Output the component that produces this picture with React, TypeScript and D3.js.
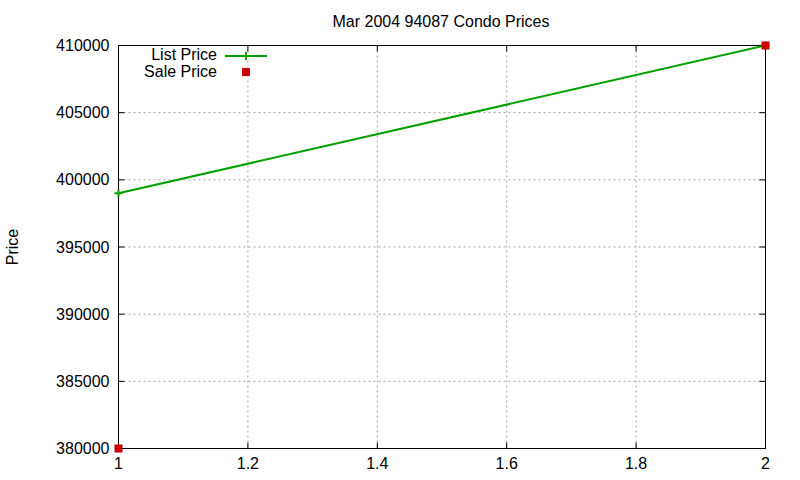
import React, { useEffect, useRef } from 'react';
import * as d3 from 'd3';

const listX = [1, 2];
const listPrice = [399000, 410000];
const saleX = [1, 2];
const salePrice = [380000, 410000];
const xTicks = [1, 1.2, 1.4, 1.6, 1.8, 2];
const yTicks = [380000, 385000, 390000, 395000, 400000, 405000, 410000];

const W = 800;
const H = 480;
const FONT = '"Liberation Sans", Arial, sans-serif';
const FS = 16;

export default function App() {
  const svgRef = useRef<SVGSVGElement>(null);

  useEffect(() => {
    document.body.style.margin = '0';
    if (!svgRef.current) return;
    const svg = d3.select(svgRef.current);
    svg.selectAll('*').remove();

    const left = 118.5, right = 765.5, top = 45.5, bottom = 448.5;
    const x = d3.scaleLinear().domain([1, 2]).range([left, right]);
    const y = d3.scaleLinear().domain([380000, 410000]).range([bottom, top]);

    svg.append('rect').attr('width', W).attr('height', H).attr('fill', '#fff');

    // grid
    const grid = svg.append('g').attr('stroke', '#a0a0a0').attr('stroke-width', 1)
      .attr('stroke-dasharray', '2,3');
    xTicks.slice(1, -1).forEach(t => {
      grid.append('line').attr('x1', x(t)).attr('x2', x(t)).attr('y1', top).attr('y2', bottom);
    });
    yTicks.slice(1, -1).forEach(t => {
      grid.append('line').attr('x1', left).attr('x2', right).attr('y1', y(t)).attr('y2', y(t));
    });

    // ticks
    const ticks = svg.append('g').attr('stroke', '#000').attr('stroke-width', 1);
    yTicks.forEach(t => {
      ticks.append('line').attr('x1', left).attr('x2', left + 6).attr('y1', y(t)).attr('y2', y(t));
      ticks.append('line').attr('x1', right).attr('x2', right - 6).attr('y1', y(t)).attr('y2', y(t));
    });
    xTicks.forEach(t => {
      ticks.append('line').attr('x1', x(t)).attr('x2', x(t)).attr('y1', bottom).attr('y2', bottom - 6);
      ticks.append('line').attr('x1', x(t)).attr('x2', x(t)).attr('y1', top).attr('y2', top + 6);
    });

    // tick labels
    svg.append('g').selectAll('text').data(yTicks).join('text')
      .attr('x', left - 9).attr('y', d => y(d)).attr('dy', '0.35em')
      .attr('text-anchor', 'end').attr('font-family', FONT).attr('font-size', FS)
      .attr('fill', '#000').text(d => String(d));
    svg.append('g').selectAll('text').data(xTicks).join('text')
      .attr('x', d => x(d)).attr('y', bottom + 20)
      .attr('text-anchor', 'middle').attr('font-family', FONT).attr('font-size', FS)
      .attr('fill', '#000').text(d => String(d));

    // frame
    svg.append('rect').attr('x', left).attr('y', top)
      .attr('width', right - left).attr('height', bottom - top)
      .attr('fill', 'none').attr('stroke', '#000').attr('stroke-width', 1);

    // title and label
    svg.append('text').attr('x', 441).attr('y', 27).attr('text-anchor', 'middle')
      .attr('font-family', FONT).attr('font-size', FS).attr('fill', '#000')
      .text('Mar 2004 94087 Condo Prices');
    svg.append('text').attr('transform', 'translate(18,247) rotate(-90)')
      .attr('text-anchor', 'middle').attr('font-family', FONT).attr('font-size', FS)
      .attr('fill', '#000').text('Price');

    const green = '#00a000';
    const red = '#cc0000';

    // list price line
    const line = d3.line<number>().x((_, i) => x(listX[i])).y(d => y(d));
    svg.append('path').attr('d', line(listPrice)).attr('fill', 'none')
      .attr('stroke', green).attr('stroke-width', 2);
    listPrice.forEach((v, i) => {
      const cx = x(listX[i]), cy = y(v);
      svg.append('path').attr('d', `M${cx - 4},${cy}H${cx + 4}M${cx},${cy - 4}V${cy + 4}`)
        .attr('stroke', green).attr('stroke-width', 2);
    });

    // sale price points
    svg.append('g').selectAll('rect').data(salePrice).join('rect')
      .attr('x', (_, i) => x(saleX[i]) - 4).attr('y', d => y(d) - 4)
      .attr('width', 8).attr('height', 8).attr('fill', red);

    // legend
    const lg = svg.append('g').attr('font-family', FONT).attr('font-size', FS).attr('fill', '#000');
    lg.append('text').attr('x', 217).attr('y', 60).attr('text-anchor', 'end').text('List Price');
    lg.append('text').attr('x', 217).attr('y', 77).attr('text-anchor', 'end').text('Sale Price');
    svg.append('line').attr('x1', 225).attr('x2', 267).attr('y1', 56).attr('y2', 56)
      .attr('stroke', green).attr('stroke-width', 2);
    svg.append('path').attr('d', 'M246,52V60').attr('stroke', green).attr('stroke-width', 2);
    svg.append('rect').attr('x', 242).attr('y', 68).attr('width', 8).attr('height', 8).attr('fill', red);
  }, []);

  return <svg ref={svgRef} width={W} height={H} style={{ display: 'block' }} />;
}
